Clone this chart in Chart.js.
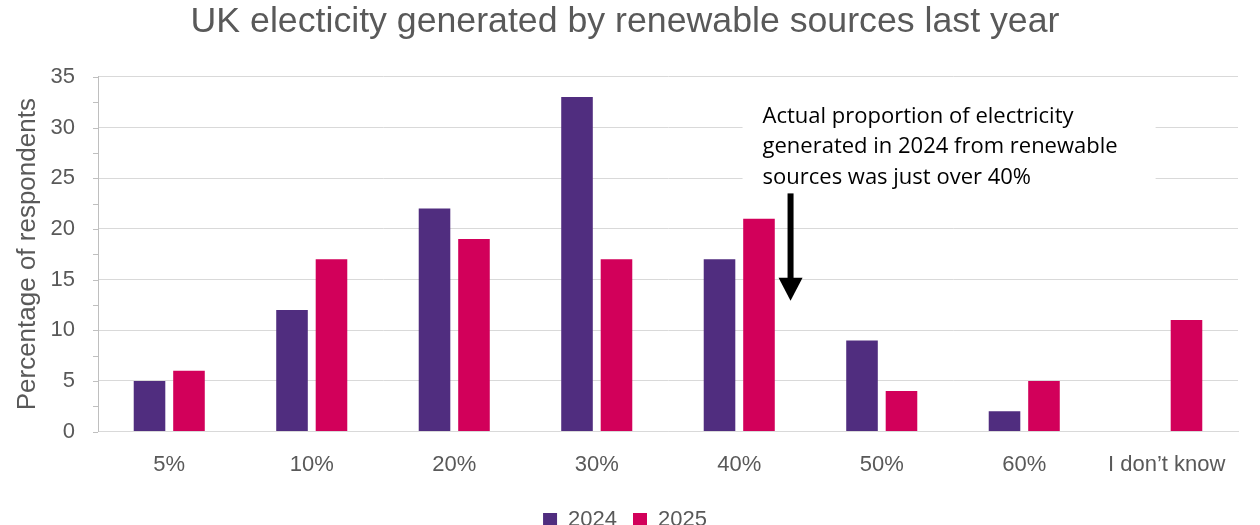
<!DOCTYPE html>
<html>
<head>
<meta charset="utf-8">
<script src="https://cdn.jsdelivr.net/npm/chart.js@4"></script>
<style>
  html,body{margin:0;padding:0;background:#fff;}
  #wrap{width:1260px;height:525px;position:relative;}
</style>
</head>
<body>
<div id="wrap"><canvas id="chart"></canvas></div>
<script>
// ===================== DATA =====================
const categories = ['5%','10%','20%','30%','40%','50%','60%','I don\u2019t know'];
const values2024 = [5, 12, 22, 33, 17, 9, 2, null];
const values2025 = [6, 17, 19, 17, 21, 4, 5, 11];
const seriesNames = ['2024','2025'];
const yTicks = [0, 5, 10, 15, 20, 25, 30, 35];

// annotation: text and arrow, placed in data units (category index / y value)
const noteLines = ['Actual proportion of electricity','generated in 2024 from renewable','sources was just over 40%'];
const arrowX = 4.36;      // just over 40%
const arrowFrom = 23.5;
const arrowTo = 12.9;

const GREY = '#595959';
const FONT = "'Liberation Sans', Arial, sans-serif";
const NOTE_FONT = "'Open Sans', 'Noto Sans', sans-serif";

// small tick marks left of the value axis, majors and half steps
const minorTicks = {
  id:'minorTicks',
  afterDraw(chart){
    const y = chart.scales.y, ctx = chart.ctx;
    ctx.save();
    ctx.strokeStyle = '#bfbfbf'; ctx.lineWidth = 1;
    for(let i=0;i<yTicks.length;i++){
      const v = yTicks[i];
      const py = Math.round(y.getPixelForValue(v))+0.5;
      ctx.beginPath(); ctx.moveTo(y.right-5, py); ctx.lineTo(y.right, py); ctx.stroke();
      if(i<yTicks.length-1){
        const pm = Math.round(y.getPixelForValue(v+2.5))+0.5;
        ctx.beginPath(); ctx.moveTo(y.right-5, pm); ctx.lineTo(y.right, pm); ctx.stroke();
      }
    }
    ctx.restore();
  }
};

// text box + down arrow over the 40% group
const note = {
  id:'note',
  afterDatasetsDraw(chart){
    const {ctx, scales:{x,y}} = chart;
    const ax = x.getPixelForValue(arrowX);
    const top = y.getPixelForValue(arrowFrom);
    const tip = y.getPixelForValue(arrowTo);
    ctx.save();
    ctx.font = `22px ${NOTE_FONT}`;
    const tx = ax - 28, lh = 30.5;
    const w = Math.max(...noteLines.map(l=>ctx.measureText(l).width));
    const c0 = top - 77;
    ctx.fillStyle = '#fff';
    ctx.fillRect(tx-20, c0-20, w+58, 3*lh+10);
    ctx.fillStyle = '#000';
    ctx.textBaseline = 'middle';
    noteLines.forEach((l,i)=>ctx.fillText(l, tx, c0 + lh*i));
    // arrow shaft
    ctx.fillRect(ax-3, top, 6, tip-top-20);
    // arrow head
    ctx.beginPath();
    ctx.moveTo(ax-12, tip-23); ctx.lineTo(ax+12, tip-23); ctx.lineTo(ax, tip);
    ctx.closePath(); ctx.fill();
    ctx.restore();
  }
};

new Chart(document.getElementById('chart').getContext('2d'),{
  type:'bar',
  data:{
    labels:categories,
    datasets:[
      {label:seriesNames[0], data:values2024, backgroundColor:'#502d7f', categoryPercentage:0.554, barPercentage:0.8},
      {label:seriesNames[1], data:values2025, backgroundColor:'#d2005a', categoryPercentage:0.554, barPercentage:0.8}
    ]
  },
  options:{
    responsive:true, maintainAspectRatio:false, animation:false,
    layout:{padding:{left:12, right:22, top:0, bottom:-16}},
    plugins:{
      title:{display:true, text:'UK electicity generated by renewable sources last year',
        color:GREY, font:{family:FONT, size:35.7, weight:'normal'}, padding:{top:1, bottom:33}},
      legend:{position:'bottom', labels:{color:GREY, font:{family:FONT, size:22},
        boxWidth:14, boxHeight:14, padding:16}},
      tooltip:{enabled:false}
    },
    scales:{
      x:{grid:{display:false}, border:{color:'#d9d9d9'},
        ticks:{color:GREY, font:{family:FONT, size:22}, padding:12},
        afterFit:s=>{s.height += 3;}},
      y:{min:0, max:35, afterBuildTicks:s=>{s.ticks=yTicks.map(v=>({value:v}));},
        afterFit:s=>{s.width = 86;},
        grid:{color:'#d9d9d9', drawTicks:false}, border:{color:'#bfbfbf'},
        ticks:{color:GREY, font:{family:FONT, size:22}, padding:23},
        title:{display:true, text:'Percentage of respondents', color:GREY,
          font:{family:FONT, size:26}, padding:{top:0, bottom:6}}}
    }
  },
  plugins:[minorTicks, note]
});
</script>
</body>
</html>
